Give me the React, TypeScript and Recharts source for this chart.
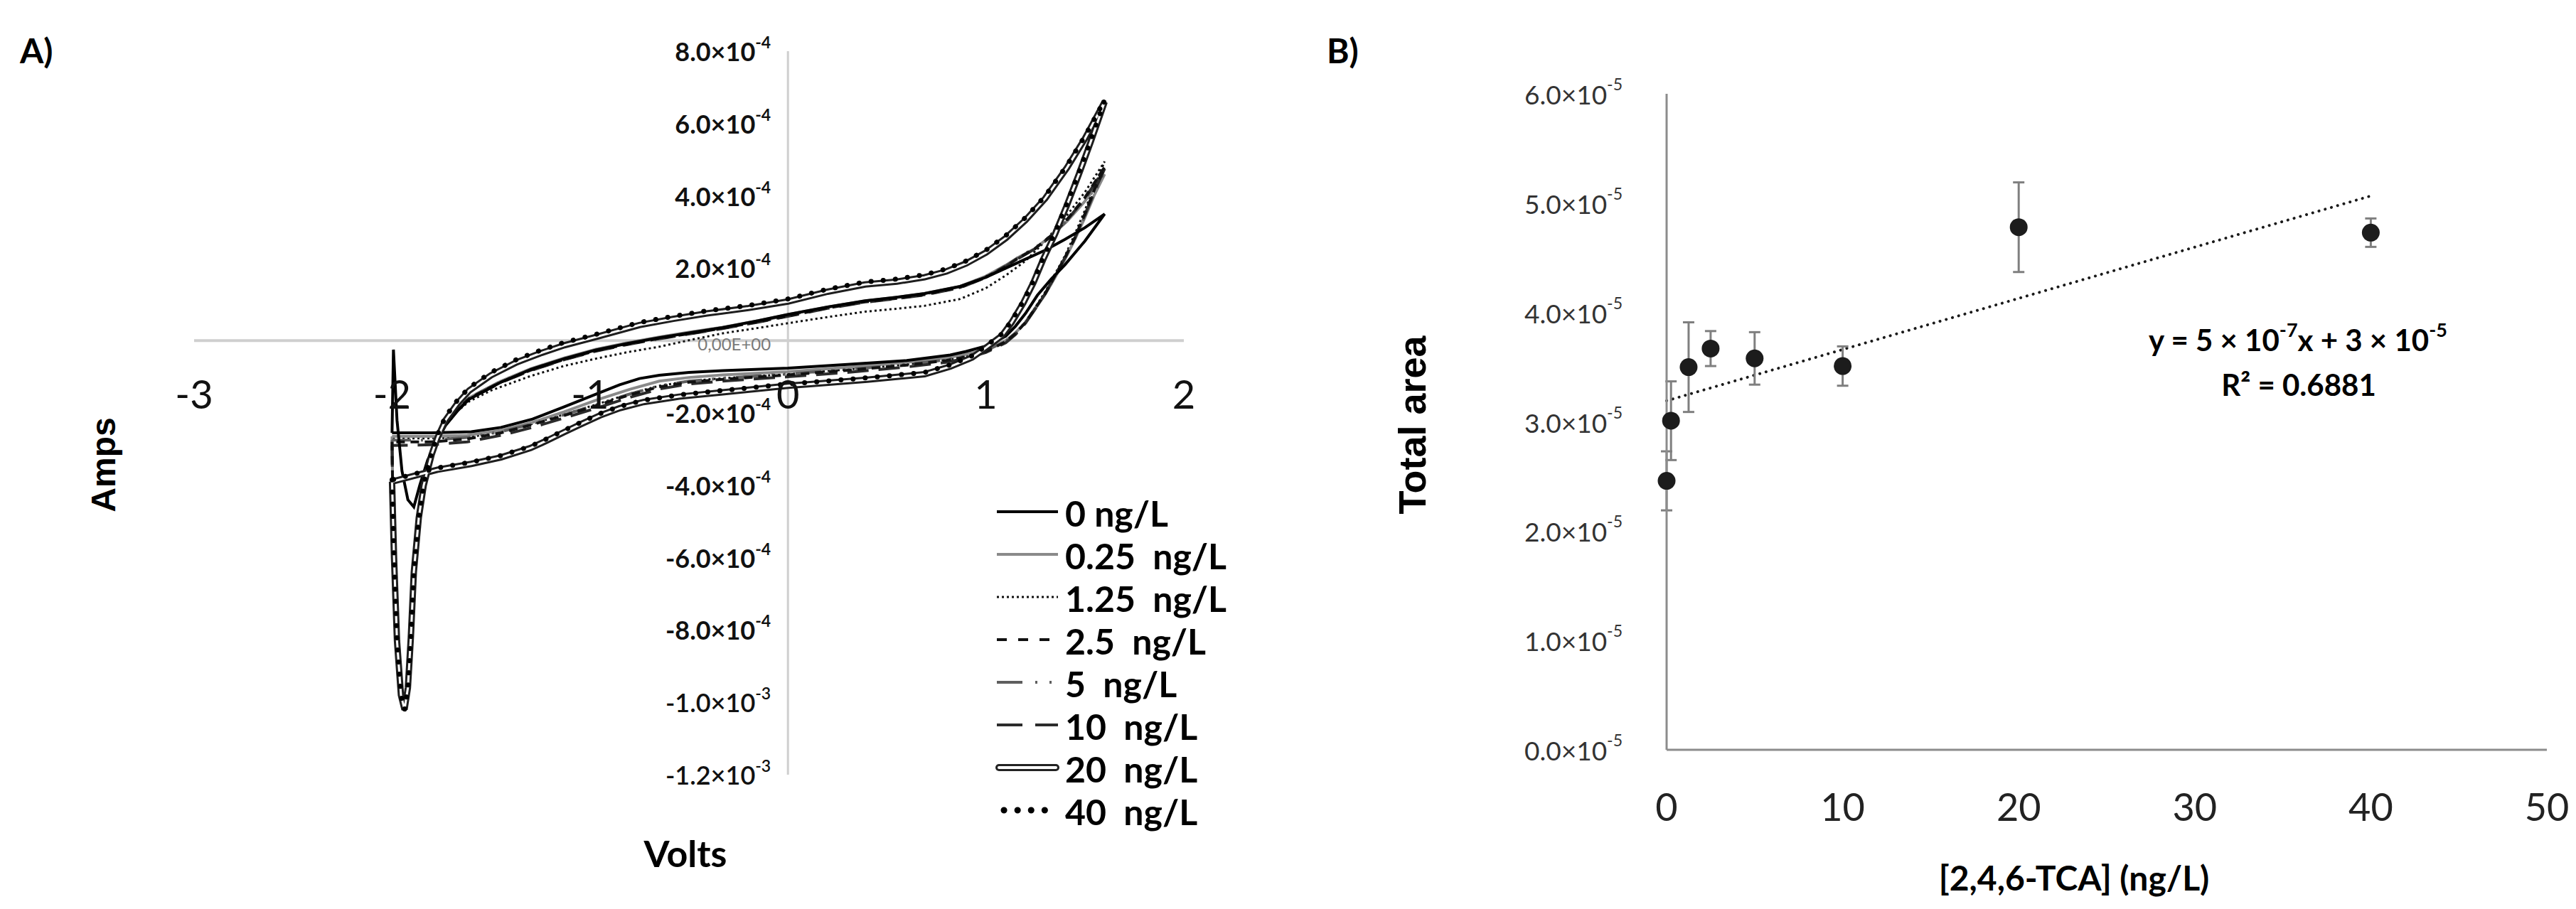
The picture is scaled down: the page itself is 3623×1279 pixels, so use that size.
import React from 'react';
import {
  LineChart,
  Line,
  XAxis,
  YAxis,
  ReferenceLine,
  Legend,
  ScatterChart,
  Scatter,
  ErrorBar,
} from 'recharts';

// ---------------- Panel A: cyclic voltammograms ----------------
// each point: [potential (V), current (x 1e-4 A)] in scan order
const CURRENT_UNIT = 1e-4;

const cv0 = [
  [-2.0, -2.55], [-1.993, -0.25], [-1.975, -2.2], [-1.95, -3.6], [-1.92, -4.4], [-1.89, -4.6], [-1.86, -4.0],
  [-1.82, -3.3], [-1.77, -2.75], [-1.73, -2.35], [-1.67, -1.95], [-1.61, -1.62], [-1.45, -1.15], [-1.3, -0.8],
  [-1.13, -0.5], [-0.97, -0.26], [-0.81, -0.08], [-0.65, 0.08], [-0.49, 0.22], [-0.33, 0.36], [-0.15, 0.55],
  [0, 0.72], [0.2, 0.93], [0.39, 1.1], [0.55, 1.2], [0.69, 1.3], [0.87, 1.5], [1.0, 1.75], [1.1, 2.0],
  [1.2, 2.25], [1.3, 2.5], [1.4, 2.8], [1.5, 3.12], [1.6, 3.5],
  [1.5, 2.75], [1.4, 2.1], [1.33, 1.7], [1.26, 1.25], [1.2, 0.75], [1.15, 0.4], [1.1, 0.12], [1.0, -0.15],
  [0.9, -0.3], [0.82, -0.4], [0.6, -0.55], [0.3, -0.66], [0, -0.76], [-0.33, -0.83], [-0.5, -0.88],
  [-0.65, -0.96], [-0.75, -1.05], [-0.85, -1.22], [-0.97, -1.48], [-1.13, -1.83], [-1.29, -2.17],
  [-1.45, -2.4], [-1.6, -2.52], [-1.8, -2.55], [-2.0, -2.55],
];

const cv025 = [
  [-2.0, -2.65], [-1.995, -5.0], [-1.975, -8.0], [-1.955, -9.5], [-1.937, -10.0], [-1.92, -9.4], [-1.905, -8.0],
  [-1.89, -6.2], [-1.865, -4.7], [-1.84, -3.85], [-1.8, -3.05], [-1.77, -2.65], [-1.73, -2.28], [-1.67, -1.88],
  [-1.61, -1.58], [-1.45, -1.12], [-1.3, -0.78], [-1.13, -0.48], [-0.97, -0.24], [-0.81, -0.06], [-0.65, 0.1],
  [-0.49, 0.24], [-0.33, 0.37], [-0.15, 0.55], [0, 0.72], [0.2, 0.93], [0.39, 1.1], [0.55, 1.2], [0.69, 1.3],
  [0.87, 1.5], [1.0, 1.78], [1.1, 2.08], [1.17, 2.32], [1.25, 2.55], [1.33, 2.9], [1.41, 3.3], [1.5, 3.85],
  [1.6, 4.6],
  [1.55, 4.05], [1.5, 3.4], [1.45, 2.8], [1.4, 2.25], [1.35, 1.75], [1.3, 1.28], [1.25, 0.88], [1.2, 0.5],
  [1.15, 0.22], [1.1, 0.0], [1.0, -0.25], [0.9, -0.38], [0.8, -0.48], [0.6, -0.6], [0.3, -0.74], [0, -0.86],
  [-0.33, -0.95], [-0.5, -1.02], [-0.65, -1.12], [-0.8, -1.35], [-0.97, -1.65], [-1.13, -1.97], [-1.29, -2.26],
  [-1.45, -2.48], [-1.62, -2.62], [-1.8, -2.65], [-2.0, -2.65],
];

const cv125 = [
  [-2.0, -2.7], [-1.995, -5.0], [-1.975, -8.1], [-1.955, -9.6], [-1.937, -10.1], [-1.92, -9.5], [-1.905, -8.1],
  [-1.89, -6.3], [-1.865, -4.8], [-1.84, -3.9], [-1.8, -3.1], [-1.77, -2.7], [-1.73, -2.35], [-1.67, -1.95],
  [-1.61, -1.68], [-1.5, -1.38], [-1.3, -0.98], [-1.13, -0.7], [-0.97, -0.5], [-0.81, -0.32], [-0.65, -0.17],
  [-0.49, 0.02], [-0.33, 0.2], [-0.15, 0.35], [0, 0.48], [0.2, 0.65], [0.39, 0.8], [0.55, 0.88], [0.69, 0.96],
  [0.87, 1.15], [1.0, 1.45], [1.1, 1.8], [1.2, 2.2], [1.3, 2.75], [1.4, 3.4], [1.5, 4.1], [1.6, 4.95],
  [1.55, 4.3], [1.5, 3.6], [1.45, 2.95], [1.4, 2.35], [1.35, 1.85], [1.3, 1.35], [1.25, 0.92], [1.2, 0.52],
  [1.15, 0.22], [1.1, -0.02], [1.0, -0.28], [0.9, -0.43], [0.8, -0.53], [0.6, -0.66], [0.3, -0.8], [0, -0.93],
  [-0.33, -1.04], [-0.5, -1.12], [-0.65, -1.25], [-0.8, -1.47], [-0.97, -1.77], [-1.13, -2.04], [-1.29, -2.3],
  [-1.45, -2.52], [-1.62, -2.68], [-1.8, -2.7], [-2.0, -2.7],
];

const cv25 = [
  [-2.0, -2.8], [-1.995, -5.0], [-1.975, -8.2], [-1.955, -9.7], [-1.937, -10.15], [-1.92, -9.55], [-1.905, -8.15],
  [-1.89, -6.35], [-1.865, -4.85], [-1.84, -3.9], [-1.8, -3.1], [-1.77, -2.7], [-1.73, -2.3], [-1.67, -1.9],
  [-1.61, -1.6], [-1.45, -1.15], [-1.3, -0.82], [-1.13, -0.52], [-0.97, -0.28], [-0.81, -0.1], [-0.65, 0.06],
  [-0.49, 0.2], [-0.33, 0.34], [-0.15, 0.52], [0, 0.68], [0.2, 0.9], [0.39, 1.07], [0.55, 1.17], [0.69, 1.27],
  [0.87, 1.47], [1.0, 1.75], [1.1, 2.05], [1.17, 2.3], [1.25, 2.55], [1.33, 2.9], [1.41, 3.35], [1.5, 3.95],
  [1.6, 4.8],
  [1.55, 4.2], [1.5, 3.5], [1.45, 2.85], [1.4, 2.3], [1.35, 1.8], [1.3, 1.3], [1.25, 0.9], [1.2, 0.5],
  [1.15, 0.2], [1.1, -0.03], [1.0, -0.3], [0.9, -0.45], [0.8, -0.55], [0.6, -0.68], [0.3, -0.82], [0, -0.95],
  [-0.33, -1.07], [-0.5, -1.15], [-0.65, -1.28], [-0.8, -1.5], [-0.97, -1.8], [-1.13, -2.07], [-1.29, -2.32],
  [-1.45, -2.55], [-1.62, -2.72], [-1.8, -2.8], [-2.0, -2.8],
];

const cv5 = [
  [-2.0, -2.75], [-1.995, -4.9], [-1.975, -8.1], [-1.955, -9.65], [-1.937, -10.1], [-1.92, -9.5], [-1.905, -8.1],
  [-1.89, -6.3], [-1.865, -4.8], [-1.84, -3.88], [-1.8, -3.08], [-1.77, -2.68], [-1.73, -2.28], [-1.67, -1.88],
  [-1.61, -1.58], [-1.45, -1.13], [-1.3, -0.8], [-1.13, -0.5], [-0.97, -0.26], [-0.81, -0.08], [-0.65, 0.08],
  [-0.49, 0.22], [-0.33, 0.36], [-0.15, 0.54], [0, 0.7], [0.2, 0.92], [0.39, 1.09], [0.55, 1.19], [0.69, 1.29],
  [0.87, 1.49], [1.0, 1.77], [1.1, 2.07], [1.17, 2.32], [1.25, 2.57], [1.33, 2.9], [1.41, 3.32], [1.5, 3.9],
  [1.6, 4.7],
  [1.55, 4.1], [1.5, 3.45], [1.45, 2.82], [1.4, 2.28], [1.35, 1.78], [1.3, 1.3], [1.25, 0.9], [1.2, 0.5],
  [1.15, 0.2], [1.1, -0.02], [1.0, -0.28], [0.9, -0.43], [0.8, -0.53], [0.6, -0.66], [0.3, -0.8], [0, -0.92],
  [-0.33, -1.04], [-0.5, -1.12], [-0.65, -1.25], [-0.8, -1.48], [-0.97, -1.78], [-1.13, -2.05], [-1.29, -2.3],
  [-1.45, -2.52], [-1.62, -2.68], [-1.8, -2.75], [-2.0, -2.75],
];

const cv10 = [
  [-2.0, -2.9], [-1.995, -5.1], [-1.975, -8.2], [-1.955, -9.7], [-1.937, -10.15], [-1.92, -9.55], [-1.905, -8.15],
  [-1.89, -6.35], [-1.865, -4.85], [-1.84, -3.92], [-1.8, -3.12], [-1.77, -2.72], [-1.73, -2.32], [-1.67, -1.92],
  [-1.61, -1.62], [-1.45, -1.16], [-1.3, -0.83], [-1.13, -0.53], [-0.97, -0.29], [-0.81, -0.11], [-0.65, 0.05],
  [-0.49, 0.19], [-0.33, 0.33], [-0.15, 0.51], [0, 0.67], [0.2, 0.89], [0.39, 1.06], [0.55, 1.16], [0.69, 1.26],
  [0.87, 1.46], [1.0, 1.74], [1.1, 2.04], [1.17, 2.29], [1.25, 2.54], [1.33, 2.88], [1.41, 3.33], [1.5, 3.93],
  [1.6, 4.75],
  [1.55, 4.15], [1.5, 3.48], [1.45, 2.84], [1.4, 2.3], [1.35, 1.8], [1.3, 1.3], [1.25, 0.88], [1.2, 0.48],
  [1.15, 0.17], [1.1, -0.06], [1.0, -0.33], [0.9, -0.49], [0.8, -0.6], [0.6, -0.73], [0.3, -0.88], [0, -1.0],
  [-0.33, -1.12], [-0.5, -1.2], [-0.65, -1.34], [-0.8, -1.57], [-0.97, -1.87], [-1.13, -2.14], [-1.29, -2.4],
  [-1.45, -2.62], [-1.62, -2.8], [-1.8, -2.88], [-2.0, -2.9],
];

const cv20 = [
  [-2.0, -3.9], [-1.99, -6.0], [-1.975, -8.3], [-1.955, -9.8], [-1.937, -10.2], [-1.92, -9.6], [-1.905, -8.2],
  [-1.89, -6.4], [-1.865, -4.9], [-1.84, -4.0], [-1.8, -3.15], [-1.77, -2.68], [-1.73, -2.2], [-1.67, -1.74],
  [-1.61, -1.38], [-1.5, -0.96], [-1.37, -0.6], [-1.25, -0.35], [-1.13, -0.13], [-0.97, 0.1], [-0.75, 0.43],
  [-0.58, 0.6], [-0.41, 0.75], [-0.2, 0.9], [0, 1.08], [0.2, 1.35], [0.39, 1.55], [0.55, 1.63], [0.69, 1.75],
  [0.8, 1.91], [0.9, 2.13], [1.0, 2.43], [1.1, 2.83], [1.2, 3.33], [1.3, 3.93], [1.41, 4.78], [1.5, 5.58],
  [1.6, 6.6],
  [1.53, 5.5], [1.47, 4.6], [1.41, 3.75], [1.35, 2.95], [1.29, 2.25], [1.24, 1.6], [1.19, 1.05], [1.13, 0.5],
  [1.08, 0.13], [1.0, -0.2], [0.93, -0.47], [0.82, -0.72], [0.69, -0.93], [0.4, -1.08], [0.1, -1.21], [0, -1.25],
  [-0.33, -1.43], [-0.55, -1.55], [-0.73, -1.7], [-0.85, -1.87], [-0.95, -2.07], [-1.05, -2.32], [-1.13, -2.53],
  [-1.22, -2.77], [-1.3, -2.97], [-1.45, -3.23], [-1.6, -3.41], [-1.77, -3.57], [-2.0, -3.9],
];

const cv40 = [
  [-2.0, -3.85], [-1.99, -6.0], [-1.975, -8.3], [-1.955, -9.8], [-1.937, -10.2], [-1.92, -9.6], [-1.905, -8.2],
  [-1.89, -6.4], [-1.865, -4.9], [-1.84, -3.95], [-1.8, -3.1], [-1.77, -2.6], [-1.73, -2.1], [-1.67, -1.65],
  [-1.61, -1.3], [-1.5, -0.88], [-1.37, -0.52], [-1.25, -0.27], [-1.13, -0.05], [-0.97, 0.17], [-0.75, 0.5],
  [-0.58, 0.67], [-0.41, 0.82], [-0.2, 0.97], [0, 1.15], [0.2, 1.42], [0.39, 1.62], [0.55, 1.7], [0.69, 1.82],
  [0.8, 1.98], [0.9, 2.2], [1.0, 2.5], [1.1, 2.9], [1.2, 3.4], [1.3, 4.0], [1.41, 4.85], [1.5, 5.65], [1.6, 6.65],
  [1.53, 5.55], [1.47, 4.65], [1.41, 3.8], [1.35, 3.0], [1.29, 2.3], [1.24, 1.65], [1.19, 1.1], [1.13, 0.55],
  [1.08, 0.18], [1.0, -0.15], [0.93, -0.42], [0.82, -0.67], [0.69, -0.88], [0.4, -1.03], [0.1, -1.16], [0, -1.2],
  [-0.33, -1.38], [-0.55, -1.5], [-0.73, -1.65], [-0.85, -1.82], [-0.95, -2.02], [-1.05, -2.27], [-1.13, -2.48],
  [-1.22, -2.72], [-1.3, -2.92], [-1.45, -3.18], [-1.6, -3.36], [-1.77, -3.52], [-2.0, -3.85],
];

const VOLT_TICKS = [-3, -2, -1, 0, 1, 2];
const AMP_TICKS = [8e-4, 6e-4, 4e-4, 2e-4, 0, -2e-4, -4e-4, -6e-4, -8e-4, -1e-3, -1.2e-3];
const VOLT_DOMAIN = [-3, 2];
const AMP_DOMAIN = [-1.2e-3, 8e-4];

// ---------------- Panel B: calibration ----------------
const tcaConc = [0, 0.25, 1.25, 2.5, 5, 10, 20, 40];
const totalArea = [2.46e-5, 3.01e-5, 3.5e-5, 3.67e-5, 3.58e-5, 3.51e-5, 4.78e-5, 4.73e-5];
const areaErr = [0.27e-5, 0.36e-5, 0.41e-5, 0.16e-5, 0.24e-5, 0.18e-5, 0.41e-5, 0.13e-5];
const CONC_TICKS = [0, 10, 20, 30, 40, 50];
const AREA_TICKS = [0, 1e-5, 2e-5, 3e-5, 4e-5, 5e-5, 6e-5];

// ---------------- layout ----------------
const FONT = 'Lato, "Open Sans", sans-serif';
const ARIAL = '"Liberation Sans", Arial, sans-serif';

const A_W = 1800;
const A_H = 1279;
const A_PLOT = { top: 72, right: 135, bottom: 189, left: 273 };
const A_XAXIS_H = 30;
const A_YAXIS_W = 60;
const aPlotW = A_W - A_PLOT.left - A_PLOT.right;
const aPlotH = A_H - A_PLOT.top - A_PLOT.bottom;
const aZeroX = A_PLOT.left + (aPlotW * (0 - VOLT_DOMAIN[0])) / (VOLT_DOMAIN[1] - VOLT_DOMAIN[0]);
const aZeroY = A_PLOT.top + (aPlotH * (AMP_DOMAIN[1] - 0)) / (AMP_DOMAIN[1] - AMP_DOMAIN[0]);

const B_LEFT = 1800;
const B_W = 1823;
const B_H = 1279;
const B_PLOT = { top: 132, right: 41, bottom: 224, left: 544 };
const B_XAXIS_H = 60;
const B_YAXIS_W = 100;
const bPlotBottom = B_H - B_PLOT.bottom;

type Series = {
  key: string;
  name: string;
  data: number[][];
  stroke: string;
  width: number;
  dash?: string;
  cap?: 'round' | 'butt';
  double?: boolean;
};

const seriesA: Series[] = [
  { key: 's125', name: '1.25  ng/L', data: cv125, stroke: '#111', width: 3, dash: '3 4' },
  { key: 's025', name: '0.25  ng/L', data: cv025, stroke: '#8a8a8a', width: 4 },
  { key: 's5', name: '5  ng/L', data: cv5, stroke: '#5e5e5e', width: 4, dash: '36 14 3 14 3 14' },
  { key: 's10', name: '10  ng/L', data: cv10, stroke: '#2b2b2b', width: 4, dash: '30 14' },
  { key: 's25', name: '2.5  ng/L', data: cv25, stroke: '#111', width: 4, dash: '12 8' },
  { key: 's0', name: '0 ng/L', data: cv0, stroke: '#000', width: 4 },
  { key: 's20', name: '20  ng/L', data: cv20, stroke: '#1e1e1e', width: 9, double: true },
  { key: 's40', name: '40  ng/L', data: cv40, stroke: '#000', width: 7, dash: '0.1 17', cap: 'round' },
];

const legendOrder = ['s0', 's025', 's125', 's25', 's5', 's10', 's20', 's40'];

const toRows = (arr: number[][]) => arr.map(([v, i]) => ({ v, i: i * CURRENT_UNIT }));

function formatSci(v: number, exp: number) {
  return (v / Math.pow(10, exp)).toFixed(1);
}

const VoltTick = (props: any) => {
  const { x, payload } = props;
  return (
    <text
      x={x}
      y={aZeroY + 74}
      textAnchor="middle"
      dominantBaseline="central"
      fontFamily={FONT}
      fontSize={56}
      fill="#111"
    >
      {payload.value}
    </text>
  );
};

const AmpTick = (props: any) => {
  const { y, payload } = props;
  const v: number = payload.value;
  const x = aZeroX - 24;
  if (Math.abs(v) < 1e-12) {
    return (
      <text x={x} y={y + 4} textAnchor="end" dominantBaseline="central" fontFamily={FONT} fontSize={24} fill="#7a7a7a">
        0,00E+00
      </text>
    );
  }
  const exp = Math.abs(v) >= 1e-3 - 1e-12 ? -3 : -4;
  const bold = exp === -4;
  return (
    <text
      x={x}
      y={y}
      textAnchor="end"
      dominantBaseline="central"
      fontFamily={FONT}
      fontSize={36}
      fontWeight={bold ? 700 : 600}
      fill="#111"
    >
      <tspan>{`${formatSci(v, exp)}×10`}</tspan>
      <tspan dy={-13} fontSize={23}>{`${exp}`}</tspan>
    </text>
  );
};

const LegendSample = ({ s, y }: { s: Series; y: number }) => {
  const x1 = 2;
  const x2 = 88;
  if (s.double) {
    return (
      <g>
        <line x1={x1 + 3} y1={y} x2={x2 - 3} y2={y} stroke="#222" strokeWidth={10} strokeLinecap="round" />
        <line x1={x1 + 3} y1={y} x2={x2 - 3} y2={y} stroke="#fff" strokeWidth={4} strokeLinecap="round" />
      </g>
    );
  }
  const isDots = s.key === 's40';
  return (
    <line
      x1={isDots ? x1 + 10 : x1}
      y1={y}
      x2={x2}
      y2={y}
      stroke={s.stroke}
      strokeWidth={isDots ? 9 : s.key === 's125' ? 3 : 4}
      strokeDasharray={isDots ? '0.1 19' : s.key === 's10' ? '36 18' : s.key === 's25' ? '14 16' : s.key === 's5' ? '36 18 3 17 3 40' : s.dash}
      strokeLinecap={isDots ? 'round' : 'butt'}
    />
  );
};

const renderLegendA = () => {
  const rows = legendOrder.map((k) => seriesA.find((s) => s.key === k) as Series);
  return (
    <svg width={440} height={480} style={{ overflow: 'visible' }}>
      {rows.map((s, idx) => {
        const y = 30 + idx * 60;
        return (
          <g key={s.key}>
            <LegendSample s={s} y={y} />
            <text
              x={98}
              y={y + 2}
              dominantBaseline="central"
              fontFamily={FONT}
              fontWeight={700}
              fontSize={50}
              fill="#000"
              style={{ whiteSpace: 'pre' }}
            >
              {s.name}
            </text>
          </g>
        );
      })}
    </svg>
  );
};

// ---------------- Panel B helpers ----------------
const bData = tcaConc.map((x, i) => ({ x, y: totalArea[i], err: areaErr[i] }));

const meanX = tcaConc.reduce((a, b) => a + b, 0) / tcaConc.length;
const meanY = totalArea.reduce((a, b) => a + b, 0) / totalArea.length;
const sxy = tcaConc.reduce((acc, x, i) => acc + (x - meanX) * (totalArea[i] - meanY), 0);
const sxx = tcaConc.reduce((acc, x) => acc + (x - meanX) * (x - meanX), 0);
const slope = sxy / sxx;
const intercept = meanY - slope * meanX;
const trendStartX = tcaConc[0];
const trendEndX = tcaConc[tcaConc.length - 1];

const ConcTick = (props: any) => {
  const { x, payload } = props;
  return (
    <text x={x} y={bPlotBottom + 79} textAnchor="middle" dominantBaseline="central" fontFamily={FONT} fontSize={54} fill="#222">
      {payload.value}
    </text>
  );
};

const AreaTick = (props: any) => {
  const { y, payload } = props;
  return (
    <text
      x={B_PLOT.left - 62}
      y={y}
      textAnchor="end"
      dominantBaseline="central"
      fontFamily={FONT}
      fontSize={37}
      fill="#333"
    >
      <tspan>{`${formatSci(payload.value, -5)}×10`}</tspan>
      <tspan dy={-14} fontSize={23}>-5</tspan>
    </text>
  );
};

const Dot = (props: any) => {
  const { cx, cy } = props;
  if (cx == null || cy == null) return null;
  return <circle cx={cx} cy={cy} r={12.5} fill="#1c1c1c" />;
};

export default function App() {
  return (
    <div
      style={{
        position: 'absolute',
        left: 0,
        top: 0,
        width: 3623,
        height: 1279,
        background: '#fff',
        overflow: 'hidden',
        fontFamily: FONT,
      }}
    >
      <div style={{ position: 'absolute', left: 0, top: 0 }}>
        <LineChart
          width={A_W}
          height={A_H}
          margin={{
            top: A_PLOT.top,
            right: A_PLOT.right,
            bottom: A_PLOT.bottom - A_XAXIS_H,
            left: A_PLOT.left - A_YAXIS_W,
          }}
        >
          <XAxis
            type="number"
            dataKey="v"
            domain={VOLT_DOMAIN}
            ticks={VOLT_TICKS}
            interval={0}
            axisLine={false}
            tickLine={false}
            height={A_XAXIS_H}
            tick={VoltTick}
            allowDataOverflow
          />
          <YAxis
            type="number"
            dataKey="i"
            domain={AMP_DOMAIN}
            ticks={AMP_TICKS}
            interval={0}
            axisLine={false}
            tickLine={false}
            width={A_YAXIS_W}
            tick={AmpTick}
            allowDataOverflow
          />
          <ReferenceLine x={0} stroke="#cfcfcf" strokeWidth={3} />
          <ReferenceLine y={0} stroke="#cfcfcf" strokeWidth={4} />
          {seriesA.map((s) =>
            s.double
              ? [
                  <Line
                    key={s.key + 'o'}
                    data={toRows(s.data)}
                    dataKey="i"
                    name={s.name}
                    type="linear"
                    stroke={s.stroke}
                    strokeWidth={s.width}
                    dot={false}
                    activeDot={false}
                    isAnimationActive={false}
                    legendType="none"
                  />,
                  <Line
                    key={s.key + 'i'}
                    data={toRows(s.data)}
                    dataKey="i"
                    name={s.name + ' inner'}
                    type="linear"
                    stroke="#fff"
                    strokeWidth={3}
                    dot={false}
                    activeDot={false}
                    isAnimationActive={false}
                    legendType="none"
                  />,
                ]
              : (
                  <Line
                    key={s.key}
                    data={toRows(s.data)}
                    dataKey="i"
                    name={s.name}
                    type="linear"
                    stroke={s.stroke}
                    strokeWidth={s.width}
                    strokeDasharray={s.dash}
                    strokeLinecap={s.cap || 'butt'}
                    dot={false}
                    activeDot={false}
                    isAnimationActive={false}
                    legendType="none"
                  />
                ),
          )}
          <Legend
            layout="vertical"
            align="center"
            verticalAlign="middle"
            content={renderLegendA}
            wrapperStyle={{ position: 'absolute', left: 1400, top: 690, width: 440, height: 480 }}
          />
        </LineChart>
      </div>

      <div style={{ position: 'absolute', left: B_LEFT, top: 0 }}>
        <ScatterChart
          width={B_W}
          height={B_H}
          margin={{
            top: B_PLOT.top,
            right: B_PLOT.right,
            bottom: B_PLOT.bottom - B_XAXIS_H,
            left: B_PLOT.left - B_YAXIS_W,
          }}
        >
          <XAxis
            type="number"
            dataKey="x"
            domain={[0, 50]}
            ticks={CONC_TICKS}
            interval={0}
            axisLine={{ stroke: '#8c8c8c', strokeWidth: 3 }}
            tickLine={false}
            height={B_XAXIS_H}
            tick={ConcTick}
          />
          <YAxis
            type="number"
            dataKey="y"
            domain={[0, 6e-5]}
            ticks={AREA_TICKS}
            interval={0}
            axisLine={{ stroke: '#8c8c8c', strokeWidth: 3 }}
            tickLine={false}
            width={B_YAXIS_W}
            tick={AreaTick}
          />
          <ReferenceLine
            segment={[
              { x: trendStartX, y: intercept + slope * trendStartX },
              { x: trendEndX, y: intercept + slope * trendEndX },
            ]}
            stroke="#1a1a1a"
            strokeWidth={4}
            strokeDasharray="0.1 9"
            strokeLinecap="round"
            ifOverflow="visible"
          />
          <Scatter data={bData} shape={Dot} isAnimationActive={false} fill="#1c1c1c">
            <ErrorBar dataKey="err" direction="y" width={8} strokeWidth={3} stroke="#7f7f7f" />
          </Scatter>
        </ScatterChart>
      </div>

      <svg
        width={3623}
        height={1279}
        style={{ position: 'absolute', left: 0, top: 0, pointerEvents: 'none' }}
      >
        <text x={28} y={70} dominantBaseline="central" fontFamily={FONT} fontWeight={700} fontSize={48} fill="#000">
          A)
        </text>
        <text x={1866} y={70} dominantBaseline="central" fontFamily={FONT} fontWeight={700} fontSize={48} fill="#000">
          B)
        </text>
        <text
          x={145}
          y={654}
          transform="rotate(-90 145 654)"
          textAnchor="middle"
          dominantBaseline="central"
          fontFamily={ARIAL}
          fontWeight={700}
          fontSize={48}
          fill="#000"
        >
          Amps
        </text>
        <text x={964} y={1200} textAnchor="middle" dominantBaseline="central" fontFamily={FONT} fontWeight={700} fontSize={52} fill="#000">
          Volts
        </text>
        <text
          x={1986}
          y={598}
          transform="rotate(-90 1986 598)"
          textAnchor="middle"
          dominantBaseline="central"
          fontFamily={ARIAL}
          fontWeight={700}
          fontSize={54}
          fill="#000"
        >
          Total area
        </text>
        <text x={2917} y={1234} textAnchor="middle" dominantBaseline="central" fontFamily={FONT} fontWeight={700} fontSize={48} fill="#000">
          [2,4,6-TCA] (ng/L)
        </text>
        <text x={3232} y={478} textAnchor="middle" dominantBaseline="central" fontFamily={FONT} fontWeight={700} fontSize={42} fill="#000">
          <tspan>y = 5 × 10</tspan>
          <tspan dy={-15} fontSize={27}>-7</tspan>
          <tspan dy={15}>x + 3 × 10</tspan>
          <tspan dy={-15} fontSize={27}>-5</tspan>
        </text>
        <text x={3233} y={541} textAnchor="middle" dominantBaseline="central" fontFamily={FONT} fontWeight={700} fontSize={42} fill="#000">
          R² = 0.6881
        </text>
      </svg>
    </div>
  );
}
